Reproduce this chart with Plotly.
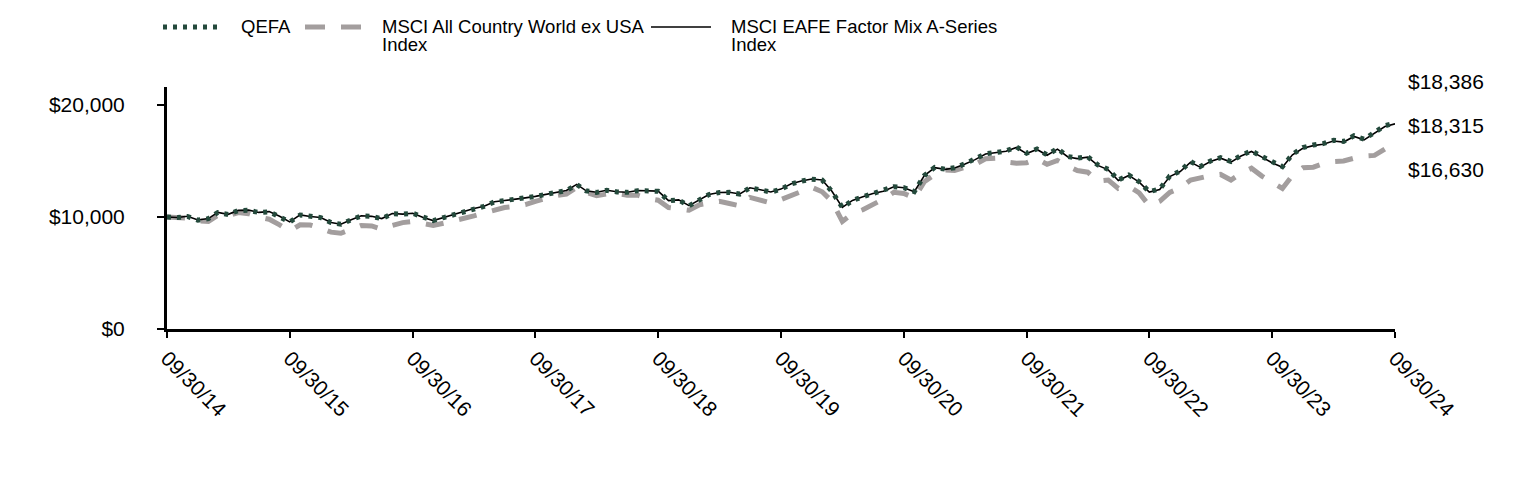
import pandas as pd
import plotly.graph_objects as go

# ---------------- data ----------------
dates = pd.date_range("2014-09-30", periods=121, freq="ME")

qefa = [
    10000, 9950, 10050, 9720, 9850, 10400, 10230, 10580, 10600, 10400,
    10470, 10050, 9550, 10180, 10030, 9950, 9500, 9350, 9750, 10100,
    10050, 9850, 10300, 10250, 10330, 9950, 9670, 9950, 10200, 10450,
    10750, 10950, 11350, 11460, 11560, 11700, 11830, 12020, 12190, 12360,
    12900, 12330, 12200, 12380, 12240, 12200, 12350, 12350, 12300, 11450,
    11520, 11000, 11550, 12000, 12180, 12200, 12050, 12600, 12430, 12220,
    12480, 12950, 13200, 13380, 13300, 12280, 10850, 11470, 11800, 12100,
    12300, 12700, 12620, 12270, 13700, 14430, 14270, 14400, 14750, 15150,
    15650, 15750, 15900, 16250, 15700, 16070, 15550, 16100, 15400, 15250,
    15380, 14650, 14250, 13300, 13750, 13150, 12260, 12500, 13650, 14100,
    14950, 14500, 15000, 15300, 14950, 15500, 15900, 15400, 14900, 14500,
    15600, 16200, 16430, 16550, 16850, 16750, 17250, 16950, 17550, 18150,
    18386,
]

acwi_ex_usa = [
    10000, 9950, 9900, 9650, 9600, 10150, 10100, 10400, 10300, 10000,
    9800, 9300, 8750, 9300, 9280, 9000, 8650, 8550, 8900, 9250,
    9200, 8900, 9250, 9500, 9600, 9450, 9250, 9450, 9650, 9850,
    10100, 10350, 10600, 10850, 10950, 11100, 11400, 11700, 11900, 12050,
    12650, 12200, 11900, 12050, 12100, 11950, 11950, 11650, 11500, 10850,
    10700, 10600, 11100, 11250, 11400, 11200, 11000, 11750, 11550, 11250,
    11550, 11900, 12300, 12650, 12250, 11400, 9600, 10300, 10650, 11100,
    11600, 12200, 12100, 11700, 13150, 13800, 14200, 14150, 14400, 14700,
    15200, 15250, 14900, 14800, 14850, 15200, 14700, 15050, 14550, 14150,
    14000, 13200, 13300, 12550, 12750, 12150, 11000, 11400, 12200, 12600,
    13300, 13500, 13700, 13800, 13300, 13900, 14350, 13650, 13100, 12550,
    13700, 14400, 14450, 14750, 14950, 15000, 15250, 15450, 15500, 16050,
    16630,
]

eafe_factor_mix = [
    10000, 9955, 10060, 9730, 9860, 10410, 10240, 10590, 10610, 10410,
    10480, 10060, 9560, 10190, 10040, 9960, 9510, 9360, 9760, 10110,
    10060, 9860, 10310, 10260, 10340, 9960, 9680, 9960, 10210, 10460,
    10760, 10960, 11360, 11470, 11570, 11710, 11840, 12030, 12200, 12370,
    12910, 12340, 12210, 12390, 12250, 12210, 12360, 12360, 12310, 11460,
    11530, 11010, 11560, 12010, 12190, 12210, 12060, 12610, 12440, 12230,
    12490, 12960, 13210, 13390, 13310, 12290, 10860, 11480, 11800, 12100,
    12300, 12700, 12610, 12260, 13690, 14410, 14250, 14380, 14730, 15120,
    15620, 15720, 15870, 16210, 15660, 16030, 15510, 16060, 15360, 15210,
    15340, 14610, 14210, 13260, 13710, 13110, 12220, 12460, 13610, 14060,
    14900, 14450, 14950, 15250, 14900, 15450, 15850, 15350, 14850, 14450,
    15550, 16140, 16370, 16490, 16790, 16690, 17190, 16890, 17490, 18080,
    18315,
]

series_names = [
    "QEFA",
    "MSCI All Country World ex USA Index",
    "MSCI EAFE Factor Mix A-Series Index",
]
legend_line1 = ["QEFA", "MSCI All Country World ex USA", "MSCI EAFE Factor Mix A-Series"]
legend_line2 = ["", "Index", "Index"]
end_labels = ["$18,386", "$18,315", "$16,630"]

y_tick_vals = [0, 10000, 20000]
y_tick_text = ["$0", "$10,000", "$20,000"]
tick_dates = pd.to_datetime([f"{y}-09-30" for y in range(2014, 2025)])
tick_labels = [f"09/30/{y % 100:02d}" for y in range(2014, 2025)]

# ---------------- style ----------------
GREEN = "#244a3c"
GRAY = "#a39e9e"
BLACK = "#000000"
FONT = "Liberation Sans, Arial, sans-serif"

OFF = 8                      # default page body margin
W, H = 1524 - OFF, 480 - OFF
ML, MT = 167 - OFF, 87 - OFF
MR = (W + OFF) - 1395
MB = (H + OFF) - 329
PW, PH = W - ML - MR, H - MT - MB


def px(x, y):
    """screen pixel -> paper coords"""
    return (x - OFF - ML) / PW, (H + OFF - MB - y) / PH


fig = go.Figure()
fig.add_trace(go.Scatter(x=dates, y=acwi_ex_usa, mode="lines", name=series_names[1],
                         line=dict(color=GRAY, width=5, dash="18px,16px"), showlegend=False))
fig.add_trace(go.Scatter(x=dates, y=eafe_factor_mix, mode="lines", name=series_names[2],
                         line=dict(color=BLACK, width=1.6), showlegend=False))
fig.add_trace(go.Scatter(x=dates, y=qefa, mode="lines", name=series_names[0],
                         line=dict(color=GREEN, width=5, dash="4px,6px"), showlegend=False))

# manual legend (symbols + text)
leg_specs = [
    (163, 218, dict(color=GREEN, width=5, dash="4px,6px"), 241),
    (305, 362, dict(color=GRAY, width=5, dash="20px,16px"), 382),
    (651, 711, dict(color=BLACK, width=1.6), 731),
]
LEG_FS = 18.5
shapes = []
annotations = []
LEG_Y = 27
for (x0, x1, ln, tx), l1, l2 in zip(leg_specs, legend_line1, legend_line2):
    a0 = px(x0, LEG_Y)
    a1 = px(x1, LEG_Y)
    shapes.append(dict(type="line", xref="paper", yref="paper", x0=a0[0], x1=a1[0],
                       y0=a0[1], y1=a1[1], line=ln))
    t = px(tx, LEG_Y)
    annotations.append(dict(xref="paper", yref="paper", x=t[0], y=t[1], text=l1,
                            showarrow=False, xanchor="left", yanchor="middle",
                            xshift=-2, font=dict(size=LEG_FS, color=BLACK, family=FONT)))
    if l2:
        t2 = px(tx, LEG_Y + 18)
        annotations.append(dict(xref="paper", yref="paper", x=t2[0], y=t2[1], text=l2,
                                showarrow=False, xanchor="left", yanchor="middle",
                                xshift=-2, font=dict(size=LEG_FS, color=BLACK, family=FONT)))

for lab, yy in zip(end_labels, [82, 125, 169]):
    p = px(1408, yy)
    annotations.append(dict(xref="paper", yref="paper", x=p[0], y=p[1], text=lab,
                            showarrow=False, xanchor="left", yanchor="middle",
                            xshift=-2, font=dict(size=21, color=BLACK, family=FONT)))

fig.update_layout(
    width=W, height=H,
    margin=dict(l=ML, r=MR, t=MT, b=MB, pad=0),
    paper_bgcolor="white", plot_bgcolor="white",
    font=dict(family=FONT, color=BLACK),
    showlegend=False,
    shapes=shapes,
    annotations=annotations,
    xaxis=dict(
        type="date", range=[dates[0], dates[-1]],
        tickvals=tick_dates, ticktext=tick_labels, tickangle=45,
        showline=True, linewidth=3, linecolor=BLACK,
        ticks="outside", ticklen=6, tickwidth=1.5, tickcolor=BLACK,
        showgrid=False, zeroline=False,
        tickfont=dict(size=21, color=BLACK, family=FONT),
        ticklabelstandoff=0,
    ),
    yaxis=dict(
        range=[0, 21607],
        tickvals=y_tick_vals, ticktext=y_tick_text,
        showline=True, linewidth=3, linecolor=BLACK,
        ticks="outside", ticklen=7, tickwidth=1.5, tickcolor=BLACK,
        showgrid=False, zeroline=False,
        tickfont=dict(size=21, color=BLACK, family=FONT),
        ticklabelstandoff=28,
    ),
)

fig.write_html("out.html")
